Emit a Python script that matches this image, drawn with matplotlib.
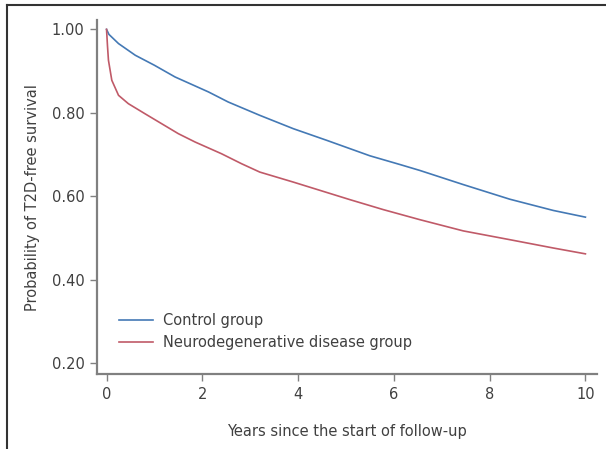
import matplotlib
matplotlib.use("Agg")
import matplotlib.pyplot as plt
from matplotlib.lines import Line2D

# Kaplan-Meier style curves
control_years = [0.0, 0.05, 0.25, 0.6, 1.0, 1.43, 2.13, 2.54, 3.2, 3.9, 4.6,
                 5.5, 6.13, 6.54, 7.45, 8.42, 9.33, 10.0]
control_surv = [1.0, 0.988, 0.966, 0.938, 0.914, 0.886, 0.85, 0.826, 0.794,
                0.762, 0.734, 0.697, 0.676, 0.662, 0.628, 0.593, 0.566, 0.55]

neuro_years = [0.0, 0.02, 0.04, 0.11, 0.25, 0.455, 0.8, 1.5, 1.85, 2.4, 2.82,
               3.2, 3.9, 5.08, 5.78, 6.54, 7.45, 8.42, 9.33, 10.0]
neuro_surv = [1.0, 0.96, 0.926, 0.878, 0.842, 0.822, 0.798, 0.75, 0.73, 0.702,
              0.678, 0.658, 0.634, 0.592, 0.568, 0.544, 0.517, 0.496, 0.476,
              0.462]

series_labels = ["Control group", "Neurodegenerative disease group"]
x_ticks = [0, 2, 4, 6, 8, 10]
y_ticks = [0.2, 0.4, 0.6, 0.8, 1.0]

text_color = "#404040"
axis_color = "#808080"
plt.rcParams["font.family"] = "DejaVu Sans"

fig = plt.figure(figsize=(6.06, 4.49), dpi=100)
ax = fig.add_axes([0.160, 0.167, 0.825, 0.788])

ax.plot(control_years, control_surv, color="#4479b5", lw=1.2, label=series_labels[0])
ax.plot(neuro_years, neuro_surv, color="#c05a68", lw=1.2, label=series_labels[1])

ax.set_xlim(-0.2, 10.24)
ax.set_ylim(0.174, 1.022)
ax.set_xticks(x_ticks)
ax.set_yticks(y_ticks)
ax.set_yticklabels(["{:.2f}".format(v) for v in y_ticks])

for side in ["top", "right"]:
    ax.spines[side].set_visible(False)
for side in ["left", "bottom"]:
    ax.spines[side].set_color(axis_color)
    ax.spines[side].set_linewidth(1.6)

ax.tick_params(axis="both", colors=axis_color, length=5, width=1, labelsize=10.5,
               labelcolor=text_color, pad=4)

ax.set_ylabel("Probability of T2D-free survival", fontsize=10.5, color=text_color,
              labelpad=8)
ax.set_xlabel("Years since the start of follow-up", fontsize=10.5, color=text_color,
              labelpad=16)

leg = ax.legend(loc="lower left", bbox_to_anchor=(0.018, 0.03), frameon=False,
                fontsize=10.5, handlelength=2.33, handletextpad=0.7,
                labelspacing=0.5)
for t in leg.get_texts():
    t.set_color(text_color)

# outer frame (only top and left edges visible in the source)
fig.add_artist(Line2D([7 / 606, 1.0], [1 - 5 / 449, 1 - 5 / 449],
                      transform=fig.transFigure, color="#333333", lw=1.5))
fig.add_artist(Line2D([7 / 606, 7 / 606], [0.0, 1 - 5 / 449],
                      transform=fig.transFigure, color="#333333", lw=1.5))

fig.savefig("out.png", dpi=100)
